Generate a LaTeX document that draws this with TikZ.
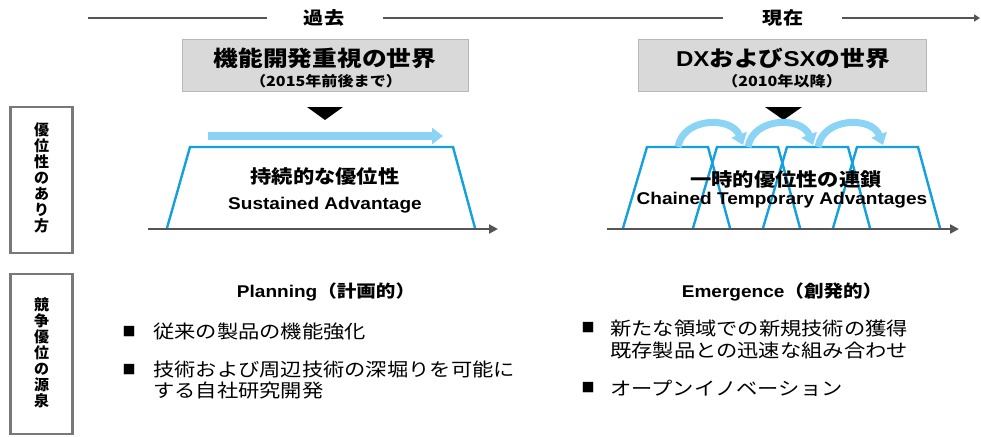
\documentclass[tikz,border=0pt]{standalone}
\usepackage{fontspec}
\usetikzlibrary{arrows.meta}
\newfontfamily\jp[FakeStretch=1.15]{Noto Sans CJK JP}
\newfontfamily\jpv{Noto Sans CJK JP}
\newfontfamily\lat[FakeStretch=1.12]{Liberation Sans}
\definecolor{boxgray}{RGB}{217,217,217}
\definecolor{trapblue}{RGB}{20,160,222}
\definecolor{lightblue}{RGB}{140,212,245}
\definecolor{axisgray}{RGB}{85,85,85}
\definecolor{framegray}{RGB}{120,120,120}
\tikzset{
  era/.style={font=\jp\bfseries\fontsize{17.5}{18}\selectfont, inner sep=0pt},
  worldbox/.style={fill=boxgray, draw=boxgray!85!black, line width=0.4pt, minimum width=286pt, minimum height=52pt, inner sep=0pt},
  title/.style={font=\jp\bfseries\fontsize{21.5}{22}\selectfont, inner sep=0pt},
  subtitle/.style={font=\jp\bfseries\fontsize{14}{15}\selectfont, inner sep=0pt},
  sidebox/.style={draw=framegray, line width=2.6pt, minimum width=62pt, inner sep=0pt},
  sidetext/.style={font=\jpv\bfseries\fontsize{15}{16}\selectfont, align=center, inner sep=0pt},
  timeline/.style={draw=axisgray, line width=1.8pt},
  axis/.style={draw=axisgray, line width=2.4pt, -{Triangle[length=9pt,width=9pt]}},
  trap/.style={draw=trapblue, line width=2.4pt, line join=miter},
  flow/.style={draw=lightblue, line width=7pt, -{Triangle[length=11pt,width=16pt]}},
  advj/.style={font=\jp\bfseries\fontsize{18.5}{19}\selectfont, inner sep=0pt},
  adve/.style={font=\lat\bfseries\fontsize{17}{18}\selectfont, inner sep=0pt},
  head/.style={font=\bfseries\fontsize{17}{18}\selectfont, inner sep=0pt},
  bullet/.style={font=\jp\fontsize{18.5}{19}\selectfont, inner sep=0pt, anchor=west},
  sq/.style={font=\jpv\fontsize{13}{13}\selectfont, inner sep=0pt},
}
\begin{document}
\begin{tikzpicture}[x=1pt,y=-1pt]
\useasboundingbox (0,0) rectangle (981,436);
% timeline
\node[era] (past) at (324,18) {過去};
\node[era] (now) at (783,18) {現在};
\coordinate (tl0) at (88,18);
\coordinate (tl1) at (980,18);
\draw[timeline] (tl0) -- (267,18);
\draw[timeline] (383,18) -- (723,18);
\draw[timeline, -{Triangle[length=6pt,width=7pt]}] (842,18) -- (tl1);
% world boxes
\node[worldbox] (w1) at (325,65.5) {};
\node[title] (w1t) at (325,58) {機能開発重視の世界};
\node[subtitle] (w1s) at (326,81) {（2015年前後まで）};
\node[worldbox, minimum width=288pt] (w2) at (782,65.5) {};
\node[title] (w2t) at (783,58) {{\lat\bfseries DX}および{\lat\bfseries SX}の世界};
\node[subtitle] (w2s) at (782,81) {（2010年以降）};
% triangles
\fill (307,107) -- (343,107) -- (325,120) -- cycle;
\fill (765,107) -- (802,107) -- (783.5,120) -- cycle;
% side boxes
\node[sidebox, minimum height=146pt] (s1) at (41.5,180) {};
\node[sidetext] (s1t) at (41.5,178) {優\\位\\性\\の\\あ\\り\\方};
\node[sidebox, minimum height=160pt] (s2) at (41.5,354) {};
\node[sidetext] (s2t) at (41.5,353) {競\\争\\優\\位\\の\\源\\泉};
% left: sustained
\coordinate (a0) at (148,229);
\coordinate (a1) at (498,229);
\draw[trap] (167,228) -- (190,147) -- (453,147) -- (475,228);
\draw[axis] (a0) -- (a1);
\coordinate (f0) at (208,136);
\coordinate (f1) at (443,136);
\draw[draw=lightblue, line width=8pt, -{Triangle[length=11pt,width=16pt]}] (f0) -- (f1);
\node[advj] (sa) at (325,177) {持続的な優位性};
\node[adve] (sb) at (325,205) {Sustained Advantage};
% right: chained
\coordinate (b0) at (607,229);
\coordinate (b1) at (959,229);
\foreach \i in {0,1,2,3}{
  \draw[trap] ({623+70*\i},228) -- ({647+70*\i},147) -- ({708+70*\i},147) -- ({730+70*\i},228);
}
\draw[axis] (b0) -- (b1);
\foreach \i in {0,1,2}{
  \coordinate (c\i s) at ({678+70*\i},147);
  \coordinate (c\i e) at ({743+70*\i},145);
  \draw[flow] (c\i s) .. controls ({683+70*\i},117) and ({732+70*\i},116) .. (c\i e);
}
\node[advj] (ca) at (786,180) {一時的優位性の連鎖};
\node[adve] (cb) at (782,200) {Chained Temporary Advantages};
% bottom left
\node[head] (pl) at (326,292) {{\lat Planning}{\jp （計画的）}};
\node[sq] (m1) at (129,332) {■};
\node[bullet] (l1) at (153,332) {従来の製品の機能強化};
\node[sq] (m2) at (129,370) {■};
\node[bullet] (l2) at (153,370) {技術および周辺技術の深堀りを可能に};
\node[bullet] (l3) at (153,390) {する自社研究開発};
% bottom right
\node[head] (em) at (782,292) {{\lat Emergence}{\jp （創発的）}};
\node[sq] (m3) at (588,328) {■};
\node[bullet] (r1) at (610,328) {新たな領域での新規技術の獲得};
\node[bullet] (r2) at (610,350) {既存製品との迅速な組み合わせ};
\node[sq] (m4) at (588,388) {■};
\node[bullet] (r3) at (610,388) {オープンイノベーション};
\end{tikzpicture}
\end{document}
